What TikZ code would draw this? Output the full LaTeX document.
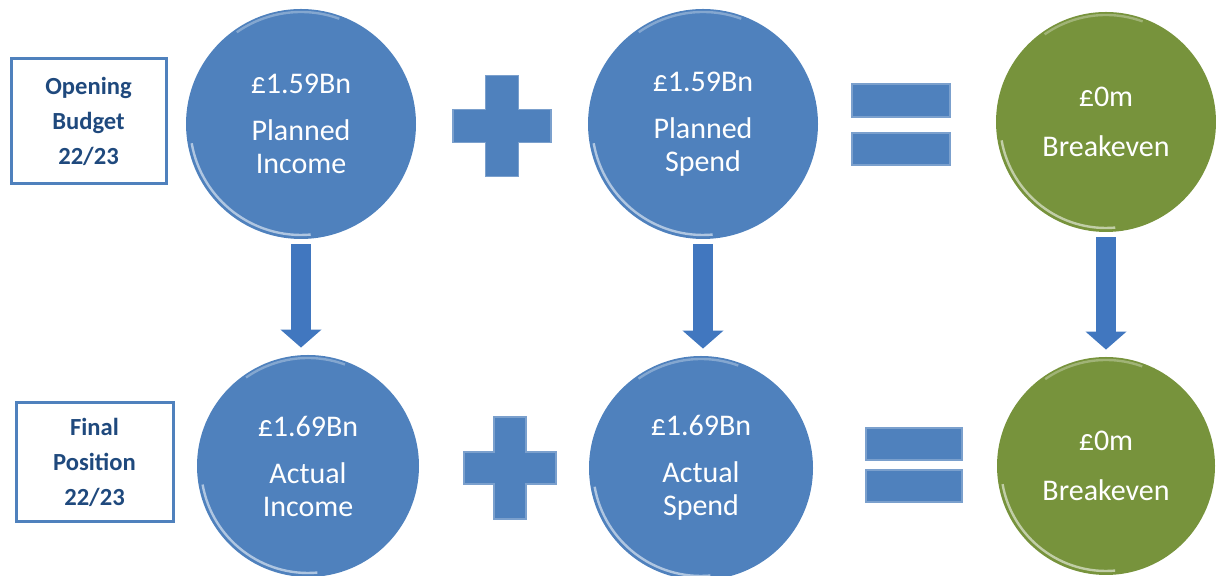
\documentclass[tikz,border=0pt]{standalone}
\usepackage{fontspec}
\setmainfont{Carlito}
\usepackage{tikz}
\usetikzlibrary{arrows.meta}
\definecolor{opblue}{HTML}{4F81BD}
\definecolor{opgreen}{HTML}{77933C}
\definecolor{navy}{HTML}{1F497D}
\definecolor{flowblue}{HTML}{4177BF}

\begin{document}
\begin{tikzpicture}[x=0.5pt,y=0.5pt,
    disc/.style={circle,fill=#1,text=white,align=center,inner sep=0pt,
      font=\fontsize{15}{16.5}\selectfont},
    labelbox/.style={draw=opblue,line width=1.5pt,text=navy,align=center,
      font=\fontsize{12.3}{17.5}\selectfont\bfseries},
    flow/.style={draw=flowblue,line width=10pt,-{Triangle[width=20pt,length=9pt]},
      shorten <=2.5pt,shorten >=3.5pt},
    sign/.style={fill=opblue,draw=opblue!75!white,line width=.6pt},
    rim/.style={white,opacity=.55,line width=1.2pt}]
  \useasboundingbox (0,0) rectangle (1216,576);

  % row labels
  \node[labelbox,minimum width=77.5pt,minimum height=62.5pt] (opening) at (88.5,454.5)
    {Opening\\Budget\\22/23};
  \node[labelbox,minimum width=78.5pt,minimum height=59.5pt] (final) at (94.5,113.5)
    {Final\\Position\\22/23};

  % budget row
  \node[disc=opblue,minimum size=115pt] (pinc) at (301,452) {£1.59Bn\\[7pt]Planned\\Income};
  \node[disc=opblue,minimum size=115pt] (pspend) at (703,452) {£1.59Bn\\[7pt]Planned\\Spend};
  \node[disc=opgreen,minimum size=110pt] (pbal) at (1106,454) {£0m\\[8.5pt]Breakeven};

  % outturn row
  \node[disc=opblue,minimum size=111pt] (ainc) at (308,110) {£1.69Bn\\[7pt]Actual\\Income};
  \node[disc=opblue,minimum size=112pt] (aspend) at (701,108) {£1.69Bn\\[7pt]Actual\\Spend};
  \node[disc=opgreen,minimum size=109pt] (abal) at (1106,110) {£0m\\[8.5pt]Breakeven};

  % light edges on the discs
  \foreach \n/\r in {pinc/115,pspend/115,pbal/110,ainc/111,aspend/112,abal/109} {
    \draw[rim] (\n.center) ++(190:{\r-4}) arc[start angle=190,end angle=275,radius=\r-4];
    \draw[rim,opacity=.3] (\n.center) ++(70:{\r-3}) arc[start angle=70,end angle=125,radius=\r-3];
  }

  % plus signs: centre, half width, half height, half arm
  \foreach \x/\y/\w/\h/\a in {502/450/49/50.5/16.5, 510/108/46/51/16}
    \filldraw[sign] (\x,\y) ++({-\a},\h) -- ++({2*\a},0) -- ++(0,{\a-\h}) -- ++({\w-\a},0)
      -- ++(0,{-2*\a}) -- ++({\a-\w},0) -- ++(0,{\a-\h}) -- ++({-2*\a},0)
      -- ++(0,{\h-\a}) -- ++({\a-\w},0) -- ++(0,{2*\a}) -- ++({\w-\a},0) -- cycle;

  % equals signs
  \filldraw[sign] (852,459) rectangle (950,492) (852,411) rectangle (950,443);
  \filldraw[sign] (866,116) rectangle (962,148) (866,74) rectangle (962,106);

  % opening -> final
  \draw[flow] (pinc.south) -- (pinc.south |- ainc.north);
  \draw[flow] (pspend.south) -- (pspend.south |- aspend.north);
  \draw[flow] (pbal.south) -- (pbal.south |- abal.north);
\end{tikzpicture}
\end{document}
